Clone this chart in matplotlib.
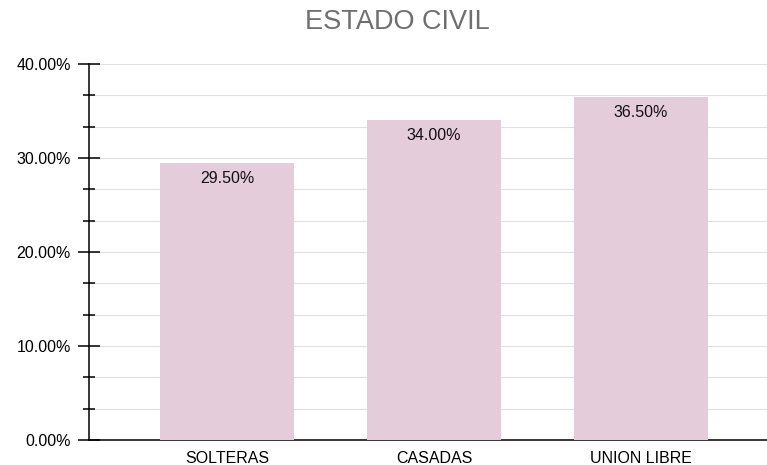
import numpy as np
import matplotlib
matplotlib.use('Agg')
import matplotlib.pyplot as plt
from matplotlib.ticker import MultipleLocator, FuncFormatter

categorias = ['SOLTERAS', 'CASADAS', 'UNION LIBRE']
valores = [29.5, 34.0, 36.5]
titulo = 'ESTADO CIVIL'

plt.rcParams['font.family'] = ['Liberation Sans', 'DejaVu Sans']

fig = plt.figure(figsize=(7.67, 4.65), dpi=100)
ax = fig.add_axes([89/767, 25/465, 678/767, 376/465])

x = np.arange(len(categorias))
barras = ax.bar(x, valores, width=0.65, color='#e4ccdb', zorder=3)

for b, v in zip(barras, valores):
    ax.text(b.get_x() + b.get_width()/2, v - 0.85, '%.2f%%' % v,
            ha='center', va='top', fontsize=11.5, color='#111111', zorder=4)

ax.set_ylim(0, 40)
ax.set_xlim(-0.667, 2.609)
ax.yaxis.set_major_locator(MultipleLocator(10))
ax.yaxis.set_minor_locator(MultipleLocator(10/3))
ax.yaxis.set_major_formatter(FuncFormatter(lambda v, p: '%.2f%%' % v))
ax.grid(axis='y', which='both', color='#e0e0e0', linewidth=0.8, zorder=0)

ax.set_xticks(x)
ax.set_xticklabels(categorias)
ax.tick_params(axis='x', length=0, labelsize=11.5, pad=8)
ax.tick_params(axis='y', which='major', direction='inout', length=16, width=1.1, labelsize=11.5, pad=5)
ax.tick_params(axis='y', which='minor', direction='inout', length=9, width=1.1)

for s in ['top', 'right']:
    ax.spines[s].set_visible(False)
ax.spines['left'].set_linewidth(1.1)
ax.spines['bottom'].set_linewidth(1.1)

fig.text(397/767, 1 - 22/465, titulo, ha='center', va='center', fontsize=19.5, color='#6f6f6f')

fig.savefig('out.png', dpi=100)
